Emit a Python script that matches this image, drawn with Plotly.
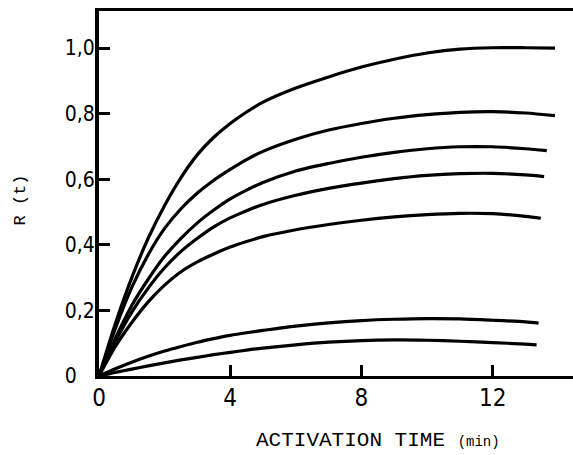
import plotly.graph_objects as go

# Activation time (min) sampling points shared by all curves
TIME = [0, 0.5, 1, 1.5, 2, 2.5, 3, 3.5, 4, 4.5, 5, 6, 7, 8, 9, 10, 11, 12, 13]

# R(t) values (top to bottom)
R1 = [0, 0.160, 0.300, 0.420, 0.520, 0.605, 0.675, 0.728, 0.770, 0.805, 0.835,
      0.878, 0.912, 0.942, 0.966, 0.985, 0.997, 1.001, 1.001]
R2 = [0, 0.145, 0.270, 0.370, 0.450, 0.510, 0.558, 0.597, 0.630, 0.660, 0.685,
      0.722, 0.750, 0.770, 0.786, 0.797, 0.804, 0.806, 0.802]
R3 = [0, 0.115, 0.215, 0.295, 0.365, 0.420, 0.467, 0.506, 0.540, 0.567, 0.590,
      0.625, 0.648, 0.667, 0.682, 0.693, 0.699, 0.699, 0.693]
R4 = [0, 0.105, 0.195, 0.268, 0.330, 0.380, 0.420, 0.455, 0.482, 0.504, 0.523,
      0.551, 0.572, 0.588, 0.602, 0.612, 0.617, 0.618, 0.613]
R5 = [0, 0.090, 0.163, 0.226, 0.277, 0.318, 0.348, 0.372, 0.393, 0.410, 0.425,
      0.446, 0.462, 0.475, 0.485, 0.492, 0.496, 0.495, 0.487]
R6 = [0, 0.022, 0.042, 0.060, 0.076, 0.090, 0.103, 0.114, 0.124, 0.132, 0.139,
      0.152, 0.162, 0.169, 0.173, 0.175, 0.174, 0.170, 0.165]
R7 = [0, 0.011, 0.021, 0.031, 0.040, 0.049, 0.057, 0.065, 0.072, 0.079, 0.085,
      0.095, 0.103, 0.108, 0.110, 0.109, 0.106, 0.102, 0.097]

# final point of each curve (time, value)
END_TIME = [13.9, 13.9, 13.65, 13.57, 13.47, 13.4, 13.34]
END_VALUE = [1.0, 0.794, 0.687, 0.608, 0.481, 0.161, 0.095]

X_TICKS = [0, 4, 8, 12]
Y_TICKS = [0, 0.2, 0.4, 0.6, 0.8, 1.0]
Y_TICK_TEXT = ["0   ", "0,2", "0,4", "0,6", "0,8", "1,0"]

SERIES = [R1, R2, R3, R4, R5, R6, R7]

fig = go.Figure()
for vals, te, ve in zip(SERIES, END_TIME, END_VALUE):
    fig.add_trace(go.Scatter(
        x=TIME + [te], y=vals + [ve], mode="lines",
        line=dict(color="black", width=3.2, shape="spline", smoothing=0.8),
        showlegend=False, hoverinfo="skip"))

tick_font = dict(family="Liberation Sans Narrow, DejaVu Sans Condensed, Arial Narrow, sans-serif",
                 size=21, color="black")

fig.update_layout(
    width=573, height=455,
    margin=dict(l=99, r=0, t=11, b=79),
    paper_bgcolor="white", plot_bgcolor="white",
    xaxis=dict(range=[0, 14.45], tickvals=X_TICKS, ticktext=[str(v) for v in X_TICKS],
               ticks="inside", ticklen=11, tickwidth=3, tickcolor="black",
               showline=True, linecolor="black", linewidth=3, mirror=True,
               showgrid=False, zeroline=False, tickfont=dict(tick_font, size=24),
               ticklabelstandoff=-2),
    yaxis=dict(range=[0, 1.113], tickvals=Y_TICKS, ticktext=Y_TICK_TEXT,
               ticks="inside", ticklen=11, tickwidth=3, tickcolor="black",
               showline=True, linecolor="black", linewidth=4, mirror=False,
               showgrid=False, zeroline=False, tickfont=tick_font,
               ticklabelstandoff=-4),
    annotations=[
        dict(text="ACTIVATION TIME <span style='font-size:14px'>(min)</span>",
             xref="paper", yref="paper", x=0.589, y=0, yanchor="middle", yshift=-64,
             showarrow=False,
             font=dict(family="Liberation Mono, DejaVu Sans Mono, monospace", size=21, color="black")),
        dict(text="R (t)", xref="paper", yref="paper", x=-0.19, y=0.482,
             textangle=-90, showarrow=False,
             font=dict(family="Liberation Mono, DejaVu Sans Mono, monospace", size=17, color="black")),
    ],
)

fig.write_html("out.html")
